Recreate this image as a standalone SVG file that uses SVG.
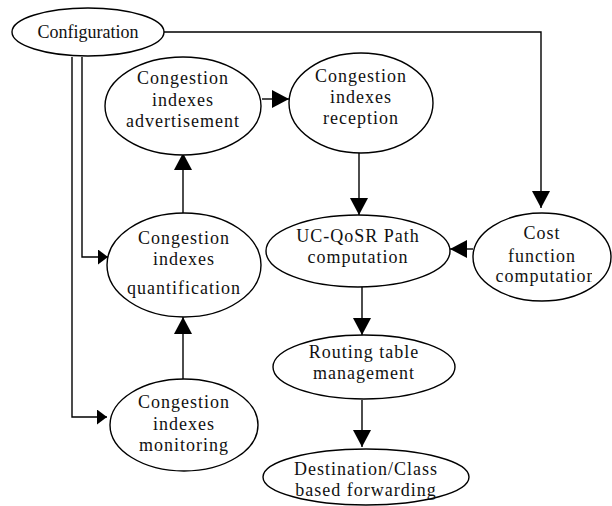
<svg xmlns="http://www.w3.org/2000/svg" width="612" height="506" viewBox="0 0 612 506">
<style>
.n{fill:#fff;stroke:#000;stroke-width:1.4}
.t{font-family:"Liberation Serif","Times New Roman",serif;font-size:18px;fill:#111;text-anchor:middle;letter-spacing:1px}
.c{fill:none;stroke:#000;stroke-width:1.4}
</style>
<defs>
<marker id="big" markerUnits="userSpaceOnUse" markerWidth="18" markerHeight="18" refX="17" refY="9" orient="auto" viewBox="0 0 18 18">
<path d="M0,0 L17,9 L0,18 Z" fill="#000"/>
</marker>
<marker id="small" markerUnits="userSpaceOnUse" markerWidth="11" markerHeight="15" refX="10" refY="7.5" orient="auto" viewBox="0 0 11 15">
<path d="M0,0 L10,7.5 L0,15 Z" fill="#000"/>
</marker>
<clipPath id="costclip"><rect x="470" y="200" width="122" height="110"/></clipPath>
</defs>
<g id="connectors">
<polyline class="c" points="164,32 541,32 541,208" marker-end="url(#big)"/>
<polyline class="c" points="82,57 82,257 108,257" marker-end="url(#small)"/>
<polyline class="c" points="72,57 72,417 107,417" marker-end="url(#small)"/>
<line class="c" x1="262" y1="99" x2="289" y2="99" marker-end="url(#big)"/>
<line class="c" x1="183" y1="213" x2="183" y2="153" marker-end="url(#big)"/>
<line class="c" x1="183" y1="380" x2="183" y2="317" marker-end="url(#big)"/>
<line class="c" x1="359" y1="153" x2="359" y2="215" marker-end="url(#big)"/>
<line class="c" x1="473" y1="249" x2="450" y2="249" marker-end="url(#big)"/>
<line class="c" x1="362" y1="286" x2="362" y2="335" marker-end="url(#big)"/>
<line class="c" x1="362" y1="400" x2="362" y2="447" marker-end="url(#big)"/>
</g>
<g id="configuration">
<ellipse class="n" cx="88" cy="32" rx="76" ry="24"/>
<text class="t" x="88" y="38" style="letter-spacing:0">Configuration</text>
</g>
<g id="advertisement">
<ellipse class="n" cx="183" cy="106" rx="78" ry="49"/>
<text class="t" x="183" y="84">Congestion</text>
<text class="t" x="183" y="106">indexes</text>
<text class="t" x="183" y="127">advertisement</text>
</g>
<g id="reception">
<ellipse class="n" cx="361" cy="103" rx="72" ry="50"/>
<text class="t" x="361" y="82">Congestion</text>
<text class="t" x="361" y="103">indexes</text>
<text class="t" x="361" y="124">reception</text>
</g>
<g id="quantification">
<ellipse class="n" cx="184" cy="265" rx="77" ry="52"/>
<text class="t" x="184" y="244">Congestion</text>
<text class="t" x="184" y="265">indexes</text>
<text class="t" x="184" y="294">quantification</text>
</g>
<g id="monitoring">
<ellipse class="n" cx="184" cy="425" rx="74" ry="46"/>
<text class="t" x="184" y="408">Congestion</text>
<text class="t" x="184" y="430">indexes</text>
<text class="t" x="184" y="451">monitoring</text>
</g>
<g id="path-computation">
<ellipse class="n" cx="358" cy="251" rx="92" ry="36"/>
<text class="t" x="358" y="242">UC-QoSR Path</text>
<text class="t" x="358" y="263">computation</text>
</g>
<g id="cost-function">
<ellipse class="n" cx="542" cy="257" rx="69" ry="44"/>
<text class="t" x="542" y="239">Cost</text>
<text class="t" x="542" y="262">function</text>
<text class="t" x="546" y="282" clip-path="url(#costclip)">computation</text>
</g>
<g id="routing-table">
<ellipse class="n" cx="364" cy="367" rx="91" ry="32"/>
<text class="t" x="364" y="358">Routing table</text>
<text class="t" x="364" y="379">management</text>
</g>
<g id="forwarding">
<ellipse class="n" cx="366" cy="477" rx="103" ry="28"/>
<text class="t" x="366" y="475">Destination/Class</text>
<text class="t" x="366" y="496">based forwarding</text>
</g>
</svg>
